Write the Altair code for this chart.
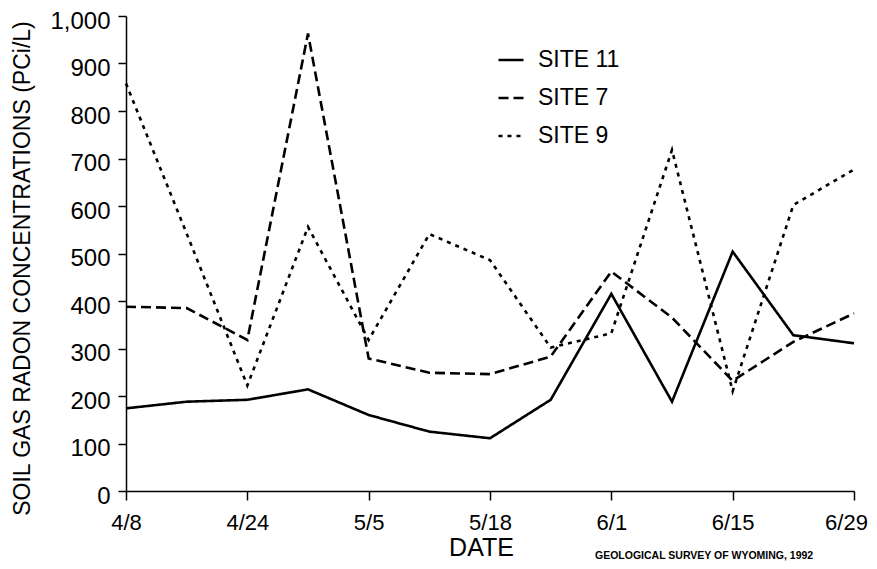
import json
import altair as alt
import pandas as pd

# ---- data ----
sample_index = list(range(13))  # 13 sampling dates, equally spaced
tick_labels = ["4/8", "4/24", "5/5", "5/18", "6/1", "6/15", "6/29"]
series_names = ["SITE 11", "SITE 7", "SITE 9"]
site11 = [174, 188, 192, 214, 160, 125, 111, 192, 415, 188, 504, 328, 311]
site7 = [388, 385, 318, 963, 279, 249, 246, 283, 462, 365, 232, 314, 374]
site9 = [858, 542, 222, 556, 318, 541, 486, 302, 332, 718, 210, 602, 677]
y_ticks = list(range(0, 1001, 100))
source_note = ["GEOLOGICAL SURVEY OF WYOMING, 1992"]

rows = []
for name, vals in zip(series_names, [site11, site7, site9]):
    for i, v in zip(sample_index, vals):
        rows.append({"t": i, "value": v, "site": name})
df = pd.DataFrame(rows)

FONT = "Liberation Sans"
label_expr = json.dumps(tick_labels) + "[round(datum.value / 2)]"

lines = alt.Chart(df).mark_line(strokeWidth=2.6, color="black").encode(
    x=alt.X(
        "t:Q",
        scale=alt.Scale(domain=[0, 12], nice=False, zero=False),
        axis=alt.Axis(
            values=[0, 2, 4, 6, 8, 10, 12],
            labelExpr=label_expr,
            labelFlush=False,
            labelOverlap=False,
            labelOffset={"condition": {"test": "datum.value >= 12", "value": -8}, "value": 0},
            title="DATE",
            titleFontSize=25,
            titleFont=FONT,
            titleFontWeight="normal",
            titleX=355,
            titleY=64,
            titleAlign="center",
            titleBaseline="alphabetic",
            tickSize=9,
            labelPadding=12,
            labelFontSize=22,
        ),
    ),
    y=alt.Y(
        "value:Q",
        scale=alt.Scale(domain=[0, 1000], nice=False),
        axis=alt.Axis(
            values=y_ticks,
            format=",d",
            labelFlush=False,
            labelOverlap=False,
            labelOffset=5,
            title="SOIL GAS RADON CONCENTRATIONS (PCi/L)",
            titleFontSize=23,
            titleFont=FONT,
            titleFontWeight="normal",
            titleAngle=-90,
            titleX=-97,
            titleY=252,
            titleAlign="center",
            titleBaseline="alphabetic",
            tickSize=8,
            labelPadding=8,
            labelFontSize=24,
        ),
    ),
    strokeDash=alt.StrokeDash(
        "site:N",
        scale=alt.Scale(domain=series_names, range=[[1, 0], [10, 5], [4, 5]]),
        legend=alt.Legend(
            title=None,
            orient="none",
            legendX=371,
            legendY=30,
            symbolType="stroke",
            symbolSize=625,
            symbolStrokeWidth=2.6,
            symbolStrokeColor="black",
            labelFontSize=23,
            labelFont=FONT,
            labelColor="black",
            labelOffset=13,
            rowPadding=12,
            padding=0,
        ),
    ),
    detail="site:N",
)

note = alt.Chart(pd.DataFrame({"note": source_note})).mark_text(
    align="left", baseline="middle", fontSize=10.5, fontWeight="bold", font=FONT, color="black"
).encode(text="note:N", x=alt.value(469), y=alt.value(540))

chart = (
    alt.layer(lines, note)
    .properties(
        width=728,
        height=475,
        autosize=alt.AutoSizeParams(type="none"),
        padding={"left": 118, "top": 8, "right": 15, "bottom": 70},
        background="white",
    )
    .configure_view(stroke=None)
    .configure_axis(
        grid=False,
        domainColor="black",
        domainWidth=1.5,
        tickColor="black",
        tickWidth=1.5,
        labelFont=FONT,
        labelColor="black",
        titleColor="black",
    )
)

chart.save("out.html", embed_options={"renderer": "svg", "actions": False})
